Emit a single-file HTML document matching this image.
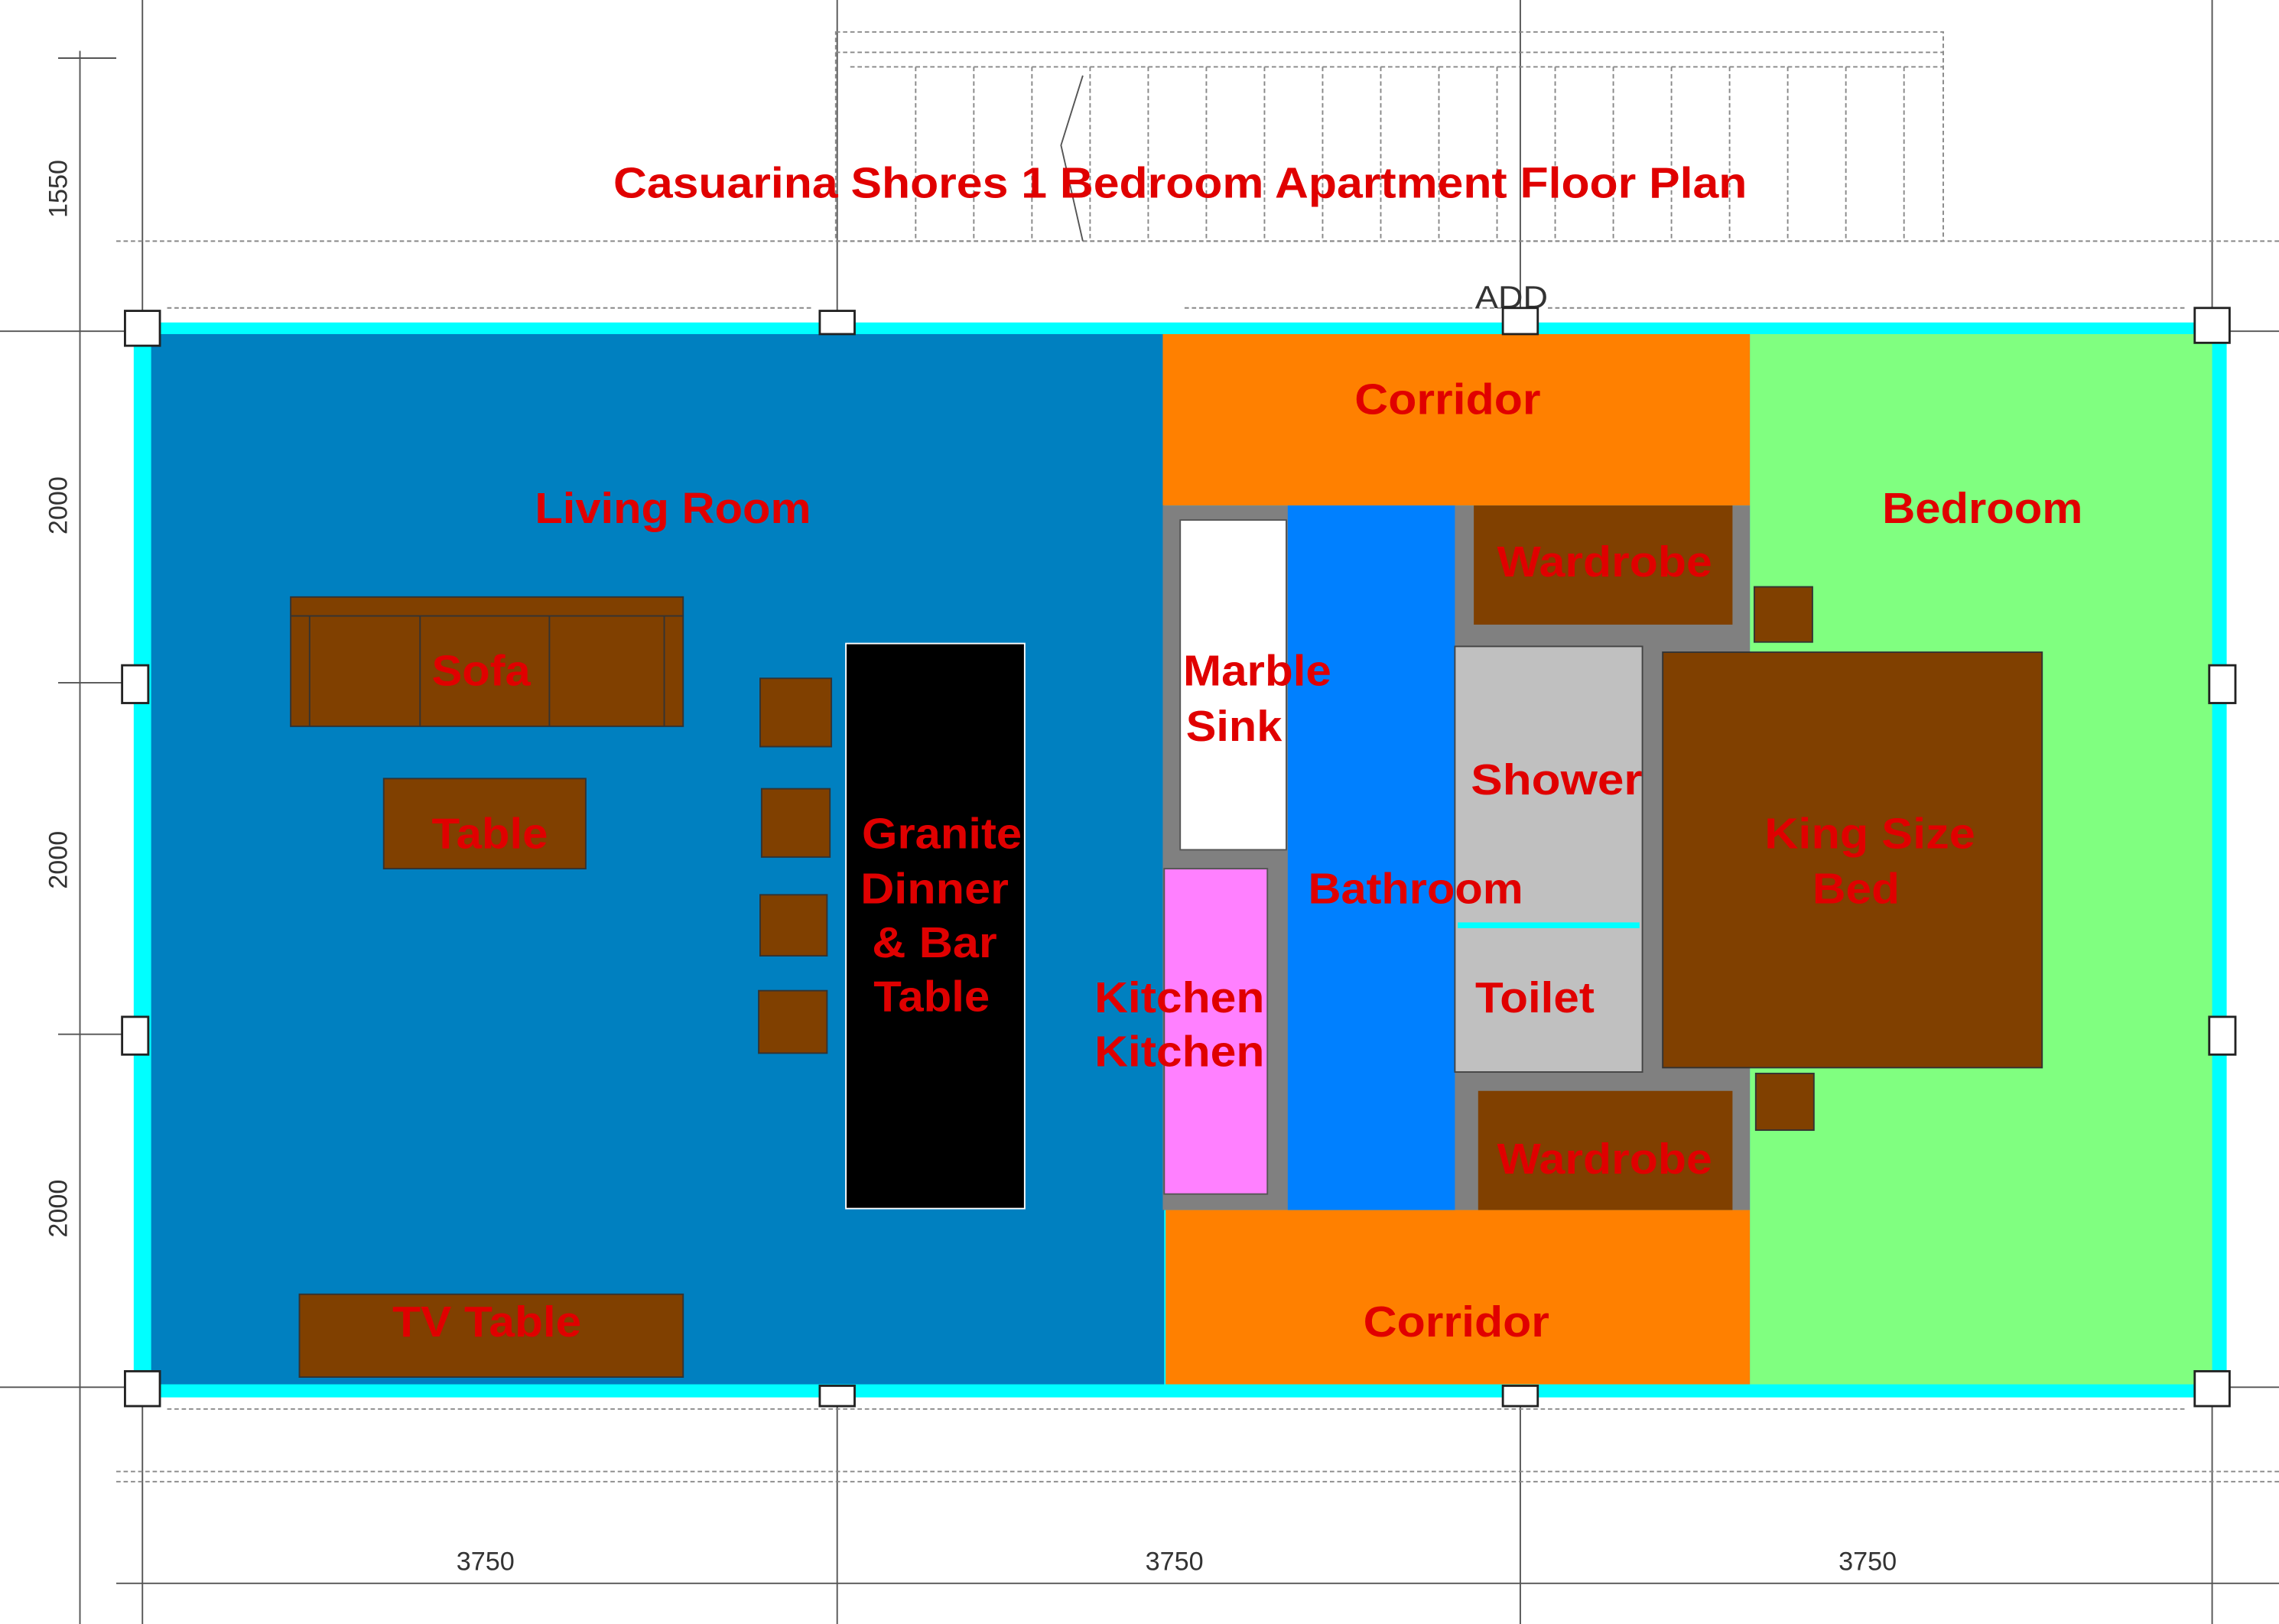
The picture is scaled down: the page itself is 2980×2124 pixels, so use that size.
<!DOCTYPE html>
<html><head><meta charset="utf-8"><style>html,body{margin:0;padding:0;background:#fff}svg{display:block}</style></head>
<body>
<svg width="2980" height="2124" viewBox="0 0 1568 1118" preserveAspectRatio="none" xmlns="http://www.w3.org/2000/svg" font-family="Liberation Sans, Arial, sans-serif">
<rect width="1568" height="1118" fill="#fff"/>
<g stroke="#555" stroke-width="1" fill="none">
<line x1="98" y1="0" x2="98" y2="1118"/><line x1="576" y1="0" x2="576" y2="1118"/><line x1="1046" y1="0" x2="1046" y2="1118"/><line x1="1522" y1="0" x2="1522" y2="1118"/>
<line x1="40" y1="40" x2="80" y2="40"/><line x1="0" y1="228" x2="1568" y2="228"/><line x1="40" y1="470" x2="100" y2="470"/><line x1="40" y1="712" x2="100" y2="712"/>
<line x1="0" y1="955" x2="1568" y2="955"/><line x1="80" y1="1090" x2="1568" y2="1090"/><line x1="55" y1="35" x2="55" y2="1118"/>
</g>
<g stroke="#888" stroke-width="1" fill="none" stroke-dasharray="3,2">
<rect x="575" y="22" width="762" height="144"/><line x1="575" y1="36" x2="1337" y2="36"/><line x1="585" y1="46" x2="1337" y2="46"/>
<line x1="80" y1="166" x2="1568" y2="166"/><line x1="80" y1="1013" x2="1568" y2="1013"/><line x1="80" y1="1020" x2="1568" y2="1020"/>
<line x1="630" y1="46" x2="630" y2="166"/><line x1="670" y1="46" x2="670" y2="166"/><line x1="710" y1="46" x2="710" y2="166"/><line x1="750" y1="46" x2="750" y2="166"/>
<line x1="790" y1="46" x2="790" y2="166"/><line x1="830" y1="46" x2="830" y2="166"/><line x1="870" y1="46" x2="870" y2="166"/><line x1="910" y1="46" x2="910" y2="166"/>
<line x1="950" y1="46" x2="950" y2="166"/><line x1="990" y1="46" x2="990" y2="166"/><line x1="1030" y1="46" x2="1030" y2="166"/><line x1="1070" y1="46" x2="1070" y2="166"/>
<line x1="1110" y1="46" x2="1110" y2="166"/><line x1="1150" y1="46" x2="1150" y2="166"/><line x1="1190" y1="46" x2="1190" y2="166"/><line x1="1230" y1="46" x2="1230" y2="166"/>
<line x1="1270" y1="46" x2="1270" y2="166"/><line x1="1310" y1="46" x2="1310" y2="166"/>
<line x1="115" y1="212" x2="560" y2="212"/><line x1="815" y1="212" x2="1040" y2="212"/><line x1="1065" y1="212" x2="1505" y2="212"/>
<line x1="115" y1="970" x2="1505" y2="970"/>
</g>
<polyline points="745,52 730,100 745,166" stroke="#555" fill="none"/>
<text x="1015" y="212" font-size="22" fill="#333" textLength="50" lengthAdjust="spacingAndGlyphs">ADD</text>
<g font-size="18" fill="#333">
<text transform="translate(46,130) rotate(-90)" text-anchor="middle">1550</text>
<text transform="translate(46,348) rotate(-90)" text-anchor="middle">2000</text>
<text transform="translate(46,592) rotate(-90)" text-anchor="middle">2000</text>
<text transform="translate(46,832) rotate(-90)" text-anchor="middle">2000</text>
<text x="334" y="1081" text-anchor="middle">3750</text><text x="808" y="1081" text-anchor="middle">3750</text><text x="1285" y="1081" text-anchor="middle">3750</text>
</g>
<rect x="92" y="222" width="1440" height="740" fill="#00FFFF"/>
<rect x="104" y="230" width="697" height="723" fill="#0080C0"/>
<rect x="1204" y="230" width="318" height="723" fill="#80FF80"/>
<rect x="800" y="230" width="404" height="118" fill="#FF8000"/>
<rect x="802" y="833" width="402" height="120" fill="#FF8000"/>
<rect x="800" y="348" width="404" height="485" fill="#808080"/>
<rect x="812" y="358" width="73" height="227" fill="#fff" stroke="#555"/>
<rect x="801" y="598" width="71" height="224" fill="#FF80FF" stroke="#555"/>
<rect x="886" y="348" width="115" height="485" fill="#0080FF"/>
<rect x="1014" y="348" width="178" height="82" fill="#804000"/>
<rect x="1017" y="751" width="175" height="82" fill="#804000"/>
<rect x="1001" y="445" width="129" height="293" fill="#C0C0C0" stroke="#444"/>
<line x1="1003" y1="637" x2="1128" y2="637" stroke="#00FFFF" stroke-width="4"/>
<g fill="#804000" stroke="#333">
<rect x="1144" y="449" width="261" height="286"/>
<rect x="1207" y="404" width="40" height="38"/><rect x="1208" y="739" width="40" height="39"/>
<rect x="200" y="411" width="270" height="89"/>
<rect x="264" y="536" width="139" height="62"/>
<rect x="206" y="891" width="264" height="57"/>
<rect x="523" y="467" width="49" height="47"/><rect x="524" y="543" width="47" height="47"/>
<rect x="523" y="616" width="46" height="42"/><rect x="522" y="682" width="47" height="43"/>
</g>
<g stroke="#333" fill="none"><line x1="200" y1="424" x2="470" y2="424"/><line x1="213" y1="424" x2="213" y2="500"/><line x1="289" y1="424" x2="289" y2="500"/><line x1="378" y1="424" x2="378" y2="500"/><line x1="457" y1="424" x2="457" y2="500"/></g>
<rect x="582" y="443" width="123" height="389" fill="#000" stroke="#fff"/>
<g fill="#fff" stroke="#222" stroke-width="1.5">
<rect x="86" y="214" width="24" height="24"/><rect x="564" y="214" width="24" height="16"/><rect x="1034" y="212" width="24" height="18"/><rect x="1510" y="212" width="24" height="24"/>
<rect x="84" y="458" width="18" height="26"/><rect x="84" y="700" width="18" height="26"/><rect x="1520" y="458" width="18" height="26"/><rect x="1520" y="700" width="18" height="26"/>
<rect x="86" y="944" width="24" height="24"/><rect x="564" y="954" width="24" height="14"/><rect x="1034" y="954" width="24" height="14"/><rect x="1510" y="944" width="24" height="24"/>
</g>
<g fill="#E00000" font-weight="bold" font-size="30" lengthAdjust="spacingAndGlyphs">
<text x="422" y="136" textLength="780" lengthAdjust="spacingAndGlyphs">Casuarina Shores 1 Bedroom Apartment Floor Plan</text>
<text x="368" y="360" textLength="190" lengthAdjust="spacingAndGlyphs">Living Room</text>
<text x="932" y="285" textLength="128" lengthAdjust="spacingAndGlyphs">Corridor</text>
<text x="938" y="920" textLength="128" lengthAdjust="spacingAndGlyphs">Corridor</text>
<text x="1295" y="360" textLength="138" lengthAdjust="spacingAndGlyphs">Bedroom</text>
<text x="1030" y="397" textLength="148" lengthAdjust="spacingAndGlyphs">Wardrobe</text>
<text x="1030" y="808" textLength="148" lengthAdjust="spacingAndGlyphs">Wardrobe</text>
<text x="814" y="472" textLength="102" lengthAdjust="spacingAndGlyphs">Marble</text>
<text x="816" y="510" textLength="66" lengthAdjust="spacingAndGlyphs">Sink</text>
<text x="1012" y="547" textLength="118" lengthAdjust="spacingAndGlyphs">Shower</text>
<text x="900" y="622" textLength="148" lengthAdjust="spacingAndGlyphs">Bathroom</text>
<text x="1015" y="697" textLength="82" lengthAdjust="spacingAndGlyphs">Toilet</text>
<text x="753" y="697" textLength="117" lengthAdjust="spacingAndGlyphs">Kitchen</text>
<text x="753" y="734" textLength="117" lengthAdjust="spacingAndGlyphs">Kitchen</text>
<text x="1214" y="584" textLength="145" lengthAdjust="spacingAndGlyphs">King Size</text>
<text x="1247" y="622" textLength="60" lengthAdjust="spacingAndGlyphs">Bed</text>
<text x="593" y="584" textLength="110" lengthAdjust="spacingAndGlyphs">Granite</text>
<text x="592" y="622" textLength="102" lengthAdjust="spacingAndGlyphs">Dinner</text>
<text x="600" y="659" textLength="86" lengthAdjust="spacingAndGlyphs">&amp; Bar</text>
<text x="601" y="696" textLength="80" lengthAdjust="spacingAndGlyphs">Table</text>
<text x="297" y="472" textLength="68" lengthAdjust="spacingAndGlyphs">Sofa</text>
<text x="297" y="584" textLength="80" lengthAdjust="spacingAndGlyphs">Table</text>
<text x="270" y="920" textLength="130" lengthAdjust="spacingAndGlyphs">TV Table</text>
</g>
</svg>
</body></html>
